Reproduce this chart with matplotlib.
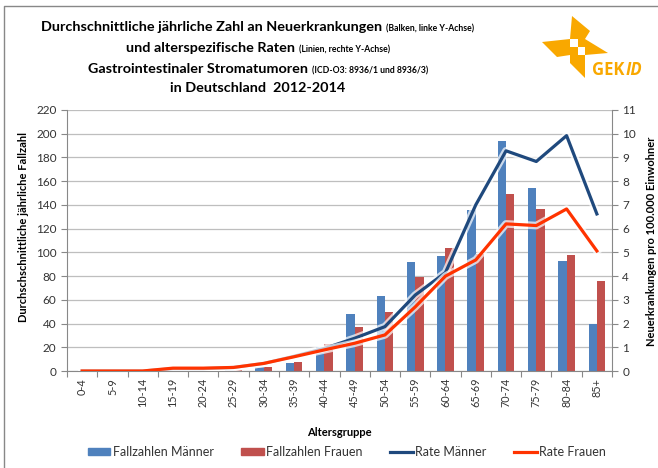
import numpy as np
import matplotlib
matplotlib.use("Agg")
import matplotlib.pyplot as plt
import matplotlib.patheffects as pe
from matplotlib.patches import Polygon, Rectangle
from matplotlib.lines import Line2D

# ─── DATA ─────────────────────────────────────────────────────────────────────
age_groups = ['0-4', '5-9', '10-14', '15-19', '20-24', '25-29', '30-34', '35-39',
              '40-44', '45-49', '50-54', '55-59', '60-64', '65-69', '70-74',
              '75-79', '80-84', '85+']
cases_men   = [0, 0, 0, 0, 0, 0.5, 3, 7, 20.5, 48, 63.5, 91.5, 97, 136, 193.5, 154.5, 93, 40]
cases_women = [0, 0, 0, 0, 0, 0.5, 3, 8, 23, 37.5, 50, 79, 104, 99, 149, 136.5, 98, 76]
rate_men    = [0, 0, 0, 0.1, 0.1, 0.15, 0.32, 0.62, 0.95, 1.38, 1.87, 3.2, 4.15, 7.0, 9.28, 8.83, 9.92, 6.62]
rate_women  = [0, 0, 0, 0.12, 0.12, 0.15, 0.32, 0.6, 0.89, 1.17, 1.52, 2.7, 4.0, 4.68, 6.2, 6.13, 6.83, 5.06]

C_MEN_BAR   = '#4F81BD'
C_WOMEN_BAR = '#C0504D'
C_MEN_LINE  = '#1F497D'
C_WOMEN_LINE = '#FF3300'
ORANGE = '#F9A800'
FONT = 'Lato'

plt.rcParams['font.family'] = [FONT, 'DejaVu Sans']

W, H = 658, 468
fig = plt.figure(figsize=(W / 100, H / 100), dpi=100)

def fx(px):
    return px / W

def fy(py):
    return 1 - py / H

# ─── MAIN AXES ────────────────────────────────────────────────────────────────
ax = fig.add_axes([fx(67), fy(371), fx(612) - fx(67), fy(110) - fy(371)])
x = np.arange(len(age_groups))
bw = 0.275
ax.bar(x - bw / 2, cases_men, bw, color=C_MEN_BAR, zorder=2)
ax.bar(x + bw / 2, cases_women, bw, color=C_WOMEN_BAR, zorder=2)
ax.set_ylim(0, 220)
ax.set_xlim(-0.5, len(age_groups) - 0.5)
ax.set_yticks(np.arange(0, 221, 20))
ax.yaxis.grid(True, color='#BEBEBE', linewidth=0.9)
ax.set_axisbelow(True)
ax.set_xticks(np.arange(-0.5, len(age_groups), 1), minor=False)
ax.set_xticklabels([])
ax.set_xticks(x, minor=True)
ax.set_xticklabels(age_groups, minor=True, rotation=90, fontsize=7.8, color='#333333')
ax.tick_params(axis='x', which='major', length=4, color='#888888')
ax.tick_params(axis='x', which='minor', length=0, pad=5)
ax.tick_params(axis='y', length=4, color='#888888', labelsize=8.5, labelcolor='#333333')
for s in ['top', 'right']:
    ax.spines[s].set_visible(False)
ax.spines['left'].set_color('#888888')
ax.spines['bottom'].set_color('#888888')
ax.set_ylabel('Durchschschnittliche jährliche Fallzahl', fontsize=8, fontweight='bold')
ax.yaxis.set_label_coords((29 - 67) / 545, (371 - 227) / 261)
ax.set_xlabel('Altersgruppe', fontsize=8, fontweight='bold', labelpad=14)

ax2 = ax.twinx()
glow = [pe.Stroke(linewidth=5.5, foreground='white', alpha=0.7), pe.Normal()]
ax2.plot(x, rate_men, color=C_MEN_LINE, linewidth=2.3, path_effects=glow, zorder=3)
ax2.plot(x, rate_women, color=C_WOMEN_LINE, linewidth=2.3, path_effects=glow, zorder=3)
ax2.set_ylim(0, 11)
ax2.set_yticks(np.arange(0, 12, 1))
ax2.tick_params(axis='y', length=4, color='#888888', labelsize=8.5, labelcolor='#333333')
for s in ['top', 'left', 'bottom']:
    ax2.spines[s].set_visible(False)
ax2.spines['right'].set_color('#888888')
ax2.set_ylabel('Neuerkrankungen pro 100.000 Einwohner', fontsize=8, fontweight='bold',
               rotation=90)
ax2.yaxis.set_label_coords((646 - 67) / 545, (371 - 241) / 261)

# ─── LEGEND ───────────────────────────────────────────────────────────────────
handles = [Rectangle((0, 0), 1, 1, color=C_MEN_BAR),
           Rectangle((0, 0), 1, 1, color=C_WOMEN_BAR),
           Line2D([], [], color=C_MEN_LINE, linewidth=2.3),
           Line2D([], [], color=C_WOMEN_LINE, linewidth=2.3)]
labels = ['Fallzahlen Männer', 'Fallzahlen Frauen', 'Rate Männer', 'Rate Frauen']
fig.legend(handles, labels, loc='center', bbox_to_anchor=(fx(347), fy(452)), ncol=4,
           frameon=False, fontsize=9, handlelength=1.8, handleheight=0.5,
           handletextpad=0.2, columnspacing=2.2, labelcolor='#333333')

# ─── TITLE ────────────────────────────────────────────────────────────────────
renderer = fig.canvas.get_renderer()

def title_line(y, main, small, big=10.4, little=6.2):
    t1 = fig.text(0, fy(y), main, fontsize=big, fontweight='bold', va='baseline')
    t2 = fig.text(0, fy(y), small, fontsize=little, fontweight='bold', va='baseline')
    w1 = t1.get_window_extent(renderer).width
    w2 = t2.get_window_extent(renderer).width if small else 0
    gap = 4 if small else 0
    start = 258 - (w1 + gap + w2) / 2
    t1.set_x(fx(start))
    t2.set_x(fx(start + w1 + gap))

title_line(31, 'Durchschnittliche jährliche Zahl an Neuerkrankungen', '(Balken, linke Y-Achse)')
title_line(52, 'und alterspezifische Raten', '(Linien, rechte Y-Achse)')
title_line(73, 'Gastrointestinaler Stromatumoren', '(ICD-O3: 8936/1 und 8936/3)')
title_line(92, 'in Deutschland  2012-2014', '')

# ─── LOGO ─────────────────────────────────────────────────────────────────────
def poly(pts, color):
    fig.patches.append(Polygon([(fx(a), fy(b)) for a, b in pts], closed=True,
                               transform=fig.transFigure, color=color, linewidth=0))

poly([(572, 16), (590, 31), (585, 39), (570, 39)], ORANGE)
poly([(585, 39), (608, 53), (585, 55)], ORANGE)
poly([(570, 55), (585, 55), (585, 78), (570, 63)], ORANGE)
poly([(542, 42), (570, 39), (570, 55), (557, 57)], ORANGE)
poly([(577.5, 39), (585, 39), (585, 47), (577.5, 47)], ORANGE)
poly([(570, 47), (577.5, 47), (577.5, 55), (570, 55)], ORANGE)
g = fig.text(fx(592), fy(75), 'GEK', color=ORANGE, fontsize=12, fontweight='bold',
             va='baseline', family='Open Sans')
gw = g.get_window_extent(renderer).width
fig.text(fx(592 + gw + 1), fy(75), 'ID', color=ORANGE, fontsize=12, fontweight='bold',
         style='italic', va='baseline', family='Open Sans')

# ─── FRAME ────────────────────────────────────────────────────────────────────
fig.lines.append(Line2D([fx(4), fx(4), fx(660)], [fy(470), fy(6), fy(6)],
                        transform=fig.transFigure, color='#888888', linewidth=1))

fig.savefig('out.png', dpi=100)
